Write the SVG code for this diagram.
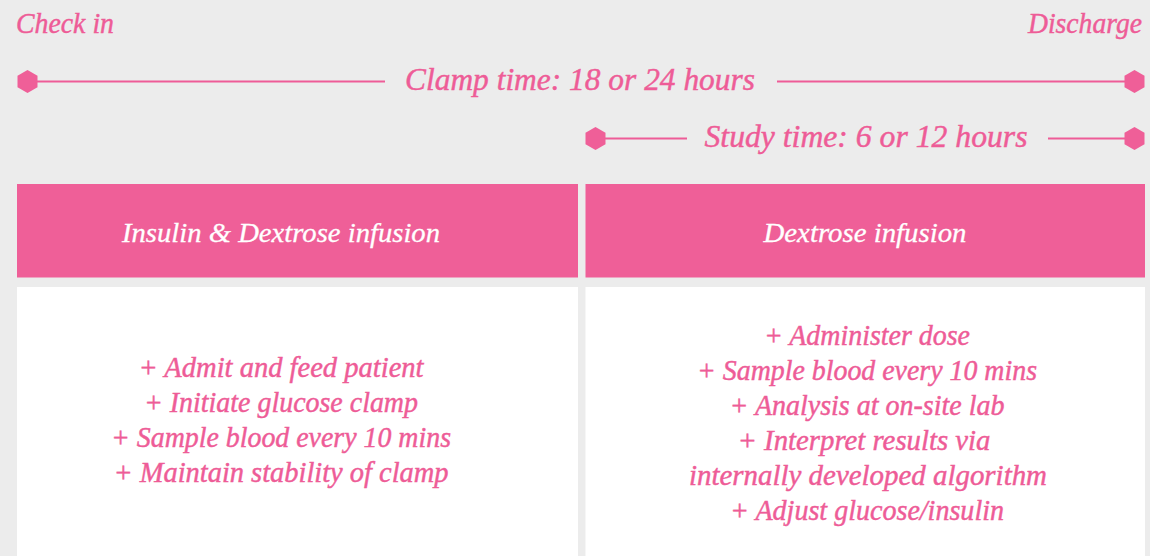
<svg xmlns="http://www.w3.org/2000/svg" width="1150" height="556" viewBox="0 0 1150 556">
  <style>
    text { font-family: "Liberation Serif", "DejaVu Serif", serif; font-style: italic; }
    .pink { fill: #ee5c97; stroke: #ee5c97; stroke-width: 0.45; }
    .white { fill: #ffffff; stroke: #ffffff; stroke-width: 0.3; }
    .line { stroke: #ee5c97; stroke-width: 2.2; fill: none; }
    .hex { fill: #ef5f98; }
    .head { fill: #ef5f98; }
    .body { fill: #ffffff; }
    .lbl { font-size: 32px; }
    .corner { font-size: 29px; }
    .htxt { font-size: 27px; }
    .btxt { font-size: 29px; }
  </style>
  <defs>
    <polygon id="hexa" points="0,-11.5 10,-5.75 10,5.75 0,11.5 -10,5.75 -10,-5.75"/>
  </defs>
  <rect width="1150" height="556" fill="#ececec"/>

  <text class="pink corner" x="16" y="33" textLength="98" lengthAdjust="spacingAndGlyphs">Check in</text>
  <text class="pink corner" x="1142" y="33" text-anchor="end" textLength="114" lengthAdjust="spacingAndGlyphs">Discharge</text>

  <g id="connectors">
    <line class="line" x1="28" y1="81.5" x2="385" y2="81.5"/>
    <line class="line" x1="777" y1="81.5" x2="1134" y2="81.5"/>
    <line class="line" x1="596" y1="138.5" x2="687" y2="138.5"/>
    <line class="line" x1="1048" y1="138.5" x2="1134" y2="138.5"/>
  </g>

  <g id="clamp-start"><use href="#hexa" class="hex" x="27.5" y="81.5"/></g>
  <g id="clamp-end"><use href="#hexa" class="hex" x="1134.5" y="81.5"/></g>
  <g id="study-start"><use href="#hexa" class="hex" x="595.5" y="138.5"/></g>
  <g id="study-end"><use href="#hexa" class="hex" x="1134.5" y="138.5"/></g>

  <g id="clamp-label">
    <text class="pink lbl" x="580" y="90" text-anchor="middle" textLength="350" lengthAdjust="spacingAndGlyphs">Clamp time: 18 or 24 hours</text>
  </g>
  <g id="study-label">
    <text class="pink lbl" x="866" y="147" text-anchor="middle" textLength="323" lengthAdjust="spacingAndGlyphs">Study time: 6 or 12 hours</text>
  </g>

  <g id="header-left">
    <rect class="head" x="17" y="184" width="561" height="93.5"/>
    <text class="white htxt" x="281" y="242" text-anchor="middle" textLength="318" lengthAdjust="spacingAndGlyphs">Insulin &amp; Dextrose infusion</text>
  </g>
  <g id="header-right">
    <rect class="head" x="585.5" y="184" width="559.5" height="93.5"/>
    <text class="white htxt" x="865" y="242" text-anchor="middle" textLength="203" lengthAdjust="spacingAndGlyphs">Dextrose infusion</text>
  </g>

  <g id="body-left">
    <rect class="body" x="17" y="287" width="561" height="269"/>
    <text class="pink btxt" x="281" y="377" text-anchor="middle" textLength="285" lengthAdjust="spacingAndGlyphs">+ Admit and feed patient</text>
    <text class="pink btxt" x="281" y="412" text-anchor="middle" textLength="274" lengthAdjust="spacingAndGlyphs">+ Initiate glucose clamp</text>
    <text class="pink btxt" x="281" y="447" text-anchor="middle" textLength="340" lengthAdjust="spacingAndGlyphs">+ Sample blood every 10 mins</text>
    <text class="pink btxt" x="281" y="482" text-anchor="middle" textLength="335" lengthAdjust="spacingAndGlyphs">+ Maintain stability of clamp</text>
  </g>
  <g id="body-right">
    <rect class="body" x="585.5" y="287" width="559.5" height="269"/>
    <text class="pink btxt" x="867" y="345" text-anchor="middle" textLength="206" lengthAdjust="spacingAndGlyphs">+ Administer dose</text>
    <text class="pink btxt" x="867" y="380" text-anchor="middle" textLength="340" lengthAdjust="spacingAndGlyphs">+ Sample blood every 10 mins</text>
    <text class="pink btxt" x="867" y="415" text-anchor="middle" textLength="275" lengthAdjust="spacingAndGlyphs">+ Analysis at on-site lab</text>
    <text class="pink btxt" x="864" y="450" text-anchor="middle" textLength="253" lengthAdjust="spacingAndGlyphs">+ Interpret results via</text>
    <text class="pink btxt" x="868" y="485" text-anchor="middle" textLength="358" lengthAdjust="spacingAndGlyphs">internally developed algorithm</text>
    <text class="pink btxt" x="867" y="520" text-anchor="middle" textLength="274" lengthAdjust="spacingAndGlyphs">+ Adjust glucose/insulin</text>
  </g>
</svg>
